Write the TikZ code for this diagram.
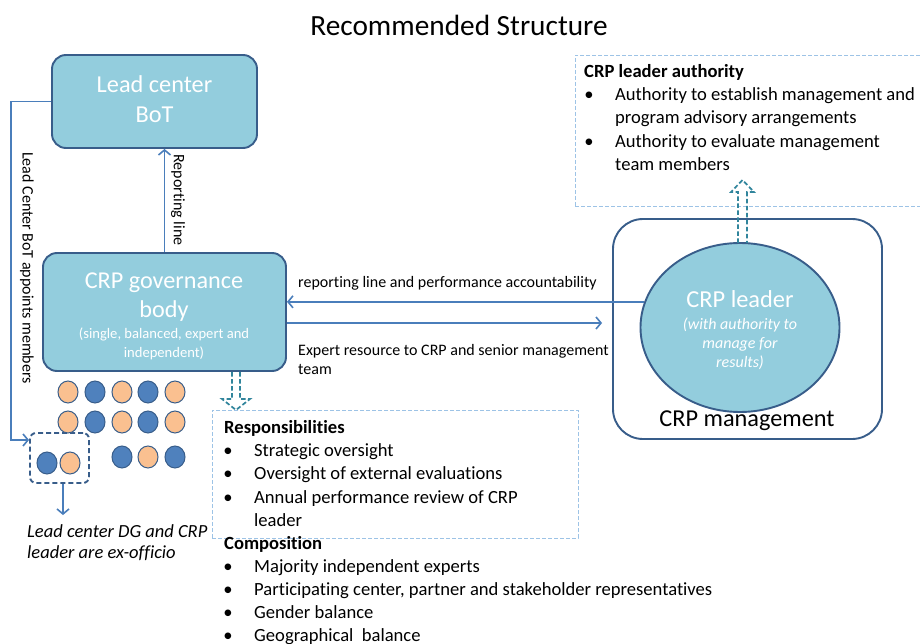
\documentclass[tikz,border=0pt]{standalone}
\usepackage{fontspec}
\setmainfont{Carlito}[Ligatures={NoCommon,NoContextual},Contextuals=NoAlternate]
\usetikzlibrary{arrows.meta,shapes.geometric}
\definecolor{boxfill}{RGB}{147,205,221}
\definecolor{boxline}{RGB}{56,93,138}
\definecolor{arrowblue}{RGB}{74,126,187}
\definecolor{peach}{RGB}{250,192,144}
\definecolor{dotblue}{RGB}{79,129,189}
\definecolor{tealdash}{RGB}{49,133,156}
\definecolor{lightdash}{RGB}{157,195,230}
\begin{document}
\begin{tikzpicture}[x=1pt,y=-1pt,
  tb/.style={draw=boxline,fill=boxfill,line width=1.9pt,rounded corners=14pt,rectangle,inner sep=0pt},
  conn/.style={draw=arrowblue,line width=1.6pt},
  tip/.style={-{Straight Barb[length=5pt,width=12pt,line width=1.6pt]}},
  tx/.style={inner sep=0pt,anchor=base west,font=\fontsize{16}{19}\selectfont},
  lt/.style={inner sep=0pt,anchor=base west,font=\fontsize{18.6}{22}\selectfont},
  wt/.style={inner sep=0pt,anchor=base,text=white},
  bul/.style={inner sep=0pt,anchor=base,font=\fontsize{18.6}{22}\selectfont},
  dotp/.style={ellipse,draw=boxline,line width=1pt,fill=peach,minimum width=20pt,minimum height=22pt,inner sep=0pt},
  dotb/.style={ellipse,draw=boxline,line width=1pt,fill=dotblue,minimum width=20pt,minimum height=22pt,inner sep=0pt},
  ldash/.style={draw=lightdash,line width=0.9pt,dash pattern=on 4pt off 2pt},
  tdash/.style={draw=tealdash,line width=1.7pt,dash pattern=on 4.5pt off 2.5pt}
]
\useasboundingbox[fill=white] (0,0) rectangle (920,644);

% title
\node[inner sep=0pt,anchor=base,font=\fontsize{29.3}{34}\selectfont] (title) at (459,36) {Recommended Structure};

% lead center box
\node[tb,minimum width=205pt,minimum height=93pt] (lead) at (154.5,101.5) {};
\node[wt,font=\fontsize{24.3}{29}\selectfont] (leadA) at (154.5,93) {Lead center};
\node[wt,font=\fontsize{24.3}{29}\selectfont] (leadB) at (154.5,123) {BoT};

% governance box
\node[tb,minimum width=243pt,minimum height=118pt] (gov) at (164.5,312) {};
\node[wt,font=\fontsize{24.2}{29}\selectfont] (govA) at (164,288) {CRP governance};
\node[wt,font=\fontsize{24.2}{29}\selectfont] (govB) at (164,317) {body};
\node[wt,font=\fontsize{14.6}{17}\selectfont] (govC) at (164,338) {(single, balanced, expert and};
\node[wt,font=\fontsize{14.6}{17}\selectfont] (govD) at (164,357) {independent)};

% reporting line up
\draw[conn,tip] (gov.north) -- (gov.north |- lead.south);
\node[inner sep=0pt,rotate=-90,font=\fontsize{16}{19}\selectfont] (rl) at (178,200) {Reporting line};

% ex-officio box and dots
\node[draw=boxline,line width=1.9pt,dash pattern=on 5pt off 3pt,rounded corners=6pt,minimum width=59pt,minimum height=50pt,inner sep=0pt] (exbox) at (59.5,458) {};
\node[dotb] (d1) at (47,463) {};
\node[dotp] (d2) at (70,463) {};

% appoints line
\draw[conn,tip] (lead.west) -- ++(-40,0) |- ([yshift=18pt]exbox.west);
\node[inner sep=0pt,rotate=-90,font=\fontsize{16}{19}\selectfont] (appoint) at (27,268) {Lead Center BoT appoints members};

\node[dotp] (c1) at (68,392) {};
\node[dotb] (c2) at (95,392) {};
\node[dotp] (c3) at (122,392) {};
\node[dotb] (c4) at (148,392) {};
\node[dotp] (c5) at (175,392) {};
\node[dotp] (c6) at (68,422) {};
\node[dotb] (c7) at (95,422) {};
\node[dotp] (c8) at (122,422) {};
\node[dotb] (c9) at (148,422) {};
\node[dotp] (c10) at (175,422) {};
\node[dotb] (c11) at (122,457) {};
\node[dotp] (c12) at (148,457) {};
\node[dotb] (c13) at (175,457) {};

\coordinate (exend) at (63,515);
\draw[conn,tip] (exbox.south -| exend) -- (exend);
\node[tx,font=\fontsize{18.5}{22}\selectfont\itshape] (ex1) at (27,537) {Lead center DG and CRP};
\node[tx,font=\fontsize{18.5}{22}\selectfont\itshape] (ex2) at (27,558) {leader are ex-officio};

% management
\node[draw=boxline,line width=1.9pt,rounded corners=30pt,fill=white,minimum width=269pt,minimum height=220pt,inner sep=0pt] (mgmt) at (747.5,329) {};
\node[ellipse,draw=boxline,line width=1.9pt,fill=boxfill,minimum width=199pt,minimum height=169pt,inner sep=0pt] (leader) at (740,327.5) {};
\node[wt,font=\fontsize{24.4}{29}\selectfont] (ldA) at (740,307) {CRP leader};
\node[wt,font=\fontsize{16}{19}\selectfont\itshape] (ldB) at (740,329) {(with authority to};
\node[wt,font=\fontsize{16}{19}\selectfont\itshape] (ldC) at (740,348) {manage for};
\node[wt,font=\fontsize{16}{19}\selectfont\itshape] (ldD) at (740,367) {results)};
\node[inner sep=0pt,anchor=base,font=\fontsize{24.3}{29}\selectfont] (mgA) at (747,426) {CRP management};

% horizontal arrows
\draw[conn,tip] (leader.165) -- (leader.165 -| gov.east);
\draw[conn,tip,shorten >=10pt] ([yshift=-11pt]gov.east) -- ([yshift=-11pt]gov.east -| mgmt.west);
\node[tx] (h1) at (298,287) {reporting line and performance accountability};
\node[tx] (h2) at (298,355) {Expert resource to CRP and senior management};
\node[tx] (h3) at (298,374) {team};

% responsibilities box
\node[ldash,minimum width=366pt,minimum height=128pt,inner sep=0pt] (resp) at (395,474) {};
\draw[tdash,line join=miter] (232,372) -- (232,399) -- (222,399) -- (236,410) -- (250,399) -- (240,399) -- (240,372);

\node[lt,font=\fontsize{18.6}{22}\selectfont\bfseries] (r0) at (224,433) {Responsibilities};
\node[bul] (rb1) at (228,456) {•};
\node[lt] (r1) at (254,456) {Strategic oversight};
\node[bul] (rb2) at (228,479) {•};
\node[lt] (r2) at (254,479) {Oversight of external evaluations};
\node[bul] (rb3) at (228,503) {•};
\node[lt] (r3) at (254,503) {Annual performance review of CRP};
\node[lt] (r4) at (254,526) {leader};
\node[lt,font=\fontsize{18.6}{22}\selectfont\bfseries] (k0) at (224,549) {Composition};
\node[bul] (kb1) at (228,572) {•};
\node[lt] (k1) at (254,572) {Majority independent experts};
\node[bul] (kb2) at (228,595) {•};
\node[lt] (k2) at (254,595) {Participating center, partner and stakeholder representatives};
\node[bul] (kb3) at (228,618) {•};
\node[lt] (k3) at (254,618) {Gender balance};
\node[bul] (kb4) at (228,641) {•};
\node[lt] (k4) at (254,641) {Geographical\ \ balance};

% authority box
\node[ldash,minimum width=355pt,minimum height=151pt,inner sep=0pt] (auth) at (752.5,130.5) {};
\draw[tdash,line join=miter] (738,243) -- (738,192) -- (731,192) -- (742.5,180) -- (754,192) -- (747,192) -- (747,243);
\node[lt,font=\fontsize{18.6}{22}\selectfont\bfseries] (a0) at (584,78) {CRP leader authority};
\node[bul] (ab1) at (589,101) {•};
\node[lt] (a1) at (615,101) {Authority to establish management and};
\node[lt] (a2) at (615,124) {program advisory arrangements};
\node[bul] (ab2) at (589,148) {•};
\node[lt] (a3) at (615,148) {Authority to evaluate management};
\node[lt] (a4) at (615,171) {team members};
\end{tikzpicture}
\end{document}
